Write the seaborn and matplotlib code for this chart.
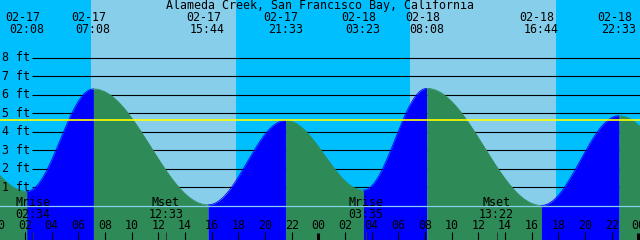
import numpy as np
import pandas as pd
import matplotlib
matplotlib.use("Agg")
import matplotlib.pyplot as plt
from matplotlib.transforms import blended_transform_factory
import seaborn as sns

# ---------------- data (hours after 02-17 00:00) ----------------
title = "Alameda Creek, San Francisco Bay, California"

# tide extremes, including the neighbours just off the chart
tide_hours = [-4.1, 2.133, 7.133, 15.733, 21.55, 27.383, 32.133, 40.733, 46.55, 52.7]
tide_feet = [4.4, 0.78, 6.32, 0.05, 4.62, 0.85, 6.35, 0.02, 4.87, 1.08]

# labelled (visible) tide events
event_hours = [2.133, 7.133, 15.733, 21.55, 27.383, 32.133, 40.733, 46.55]
event_dates = ["02-17", "02-17", "02-17", "02-17", "02-18", "02-18", "02-18", "02-18"]
event_times = ["02:08", "07:08", "15:44", "21:33", "03:23", "08:08", "16:44", "22:33"]

sunrise_hours = [6.95, 30.875]
sunset_hours = [17.83, 41.825]

moon_names = ["Mrise", "Mset", "Mrise", "Mset"]
moon_hours = [2.567, 12.55, 27.583, 37.367]
moon_times = ["02:34", "12:33", "03:35", "13:22"]

mean_level = 4.62
depth_levels = [1, 2, 3, 4, 5, 6, 7, 8]
depth_labels = ["1 ft", "2 ft", "3 ft", "4 ft", "5 ft", "6 ft", "7 ft", "8 ft"]

hour_ticks = list(range(0, 49, 2))
hour_labels = ["%02d" % (h % 24) for h in hour_ticks]

# ---------------- style ----------------
NIGHT = "#00BFFF"
DAY = "#87CEEB"
RISE = "#0000FF"
FALL = "#2E8B57"
MEAN = "#FFFF00"
ZERO = "#87CEEB"

W, H = 640, 240
PX_PER_H = 13.333
X0 = -1.67          # pixel of 02-17 00:00
Y0 = 205.8          # pixel row of 0 ft
PX_PER_FT = 18.49


def xd(px):
    return (px - X0) / PX_PER_H


def yd(py):
    return (Y0 - py) / PX_PER_FT


sns.set_theme(style="white")
plt.rcParams["font.family"] = ["DejaVu Sans Mono", "DejaVu Sans"]
FS = 8.4

fig = plt.figure(figsize=(W / 100, H / 100), dpi=100)
ax = fig.add_axes([0, 0, 1, 1])
ax.set_xlim(xd(0), xd(W))
ax.set_ylim(yd(H), yd(0))
ax.axis("off")
fig.patch.set_facecolor(NIGHT)
ax.set_facecolor(NIGHT)

ybot = yd(H)

# day / night
ax.axvspan(xd(0), xd(W), color=NIGHT, lw=0, zorder=0)
for r, s in zip(sunrise_hours, sunset_hours):
    ax.axvspan(r, s, color=DAY, lw=0, zorder=0.1)

# depth lines (behind the water)
ax.hlines(depth_levels, xd(32), xd(W), colors="black", lw=0.8, zorder=1)

# water
for i in range(len(tide_hours) - 1):
    t0, t1 = tide_hours[i], tide_hours[i + 1]
    h0, h1 = tide_feet[i], tide_feet[i + 1]
    t = np.linspace(t0, t1, 300)
    h = h1 + (h0 - h1) * (1 + np.cos(np.pi * (t - t0) / (t1 - t0))) / 2
    col = RISE if h1 > h0 else FALL
    ax.fill_between(t, h, ybot, color=col, lw=0, zorder=2)
    seg = pd.DataFrame({"t": t, "h": h})
    sns.lineplot(data=seg, x="t", y="h", color=col, lw=0.6, ax=ax, zorder=2.1,
                 legend=False, sort=False)
ax.set_xlim(xd(0), xd(W))
ax.set_ylim(yd(H), yd(0))
ax.axis("off")

# mean and zero lines
ax.axhline(mean_level, color=MEAN, lw=1.2, zorder=3)
ax.axhline(0, color=ZERO, lw=0.9, zorder=3)

tr = blended_transform_factory(ax.transData, fig.transFigure)


def fy(py):
    return 1 - py / H


# depth labels
for lev, lab in zip(depth_levels, depth_labels):
    ax.text(2 / W, fy(Y0 - lev * PX_PER_FT + 3.6), lab, transform=fig.transFigure,
            ha="left", va="baseline", fontsize=FS, color="black", zorder=5)

# title
fig.text(0.5 - 0.5 / W, fy(9.3), title, ha="center", va="baseline", fontsize=FS,
         color="black", zorder=5)

# tide event labels
for t, d, s in zip(event_hours, event_dates, event_times):
    ax.text(t - 4.5 / PX_PER_H, fy(21), d, transform=tr, ha="center",
            va="baseline", fontsize=FS, color="black", zorder=5)
    ax.text(t - 0.5 / PX_PER_H, fy(33.3), s, transform=tr, ha="center",
            va="baseline", fontsize=FS, color="black", zorder=5)

# moon events
for t, n, s in zip(moon_hours, moon_names, moon_times):
    ax.text(t, fy(205.8), n, transform=tr, ha="center", va="baseline",
            fontsize=FS, color="black", zorder=5)
    ax.text(t, fy(218.4), s, transform=tr, ha="center", va="baseline",
            fontsize=FS, color="black", zorder=5)
    ax.vlines(t, yd(H), yd(232), colors="#303030", lw=0.7, zorder=4)

# hour ticks and labels
for h, lab in zip(hour_ticks, hour_labels):
    ax.text(h, fy(229), lab, transform=tr, ha="center", va="baseline",
            fontsize=FS, color="black", zorder=5)
    if h % 24 == 0:
        ax.vlines(h, yd(H), yd(232.7), colors="black", lw=2.2, zorder=4)
    else:
        ax.vlines(h, yd(H), yd(232), colors="black", lw=0.8, zorder=4)

fig.savefig("out.png", dpi=100, facecolor=fig.get_facecolor())
